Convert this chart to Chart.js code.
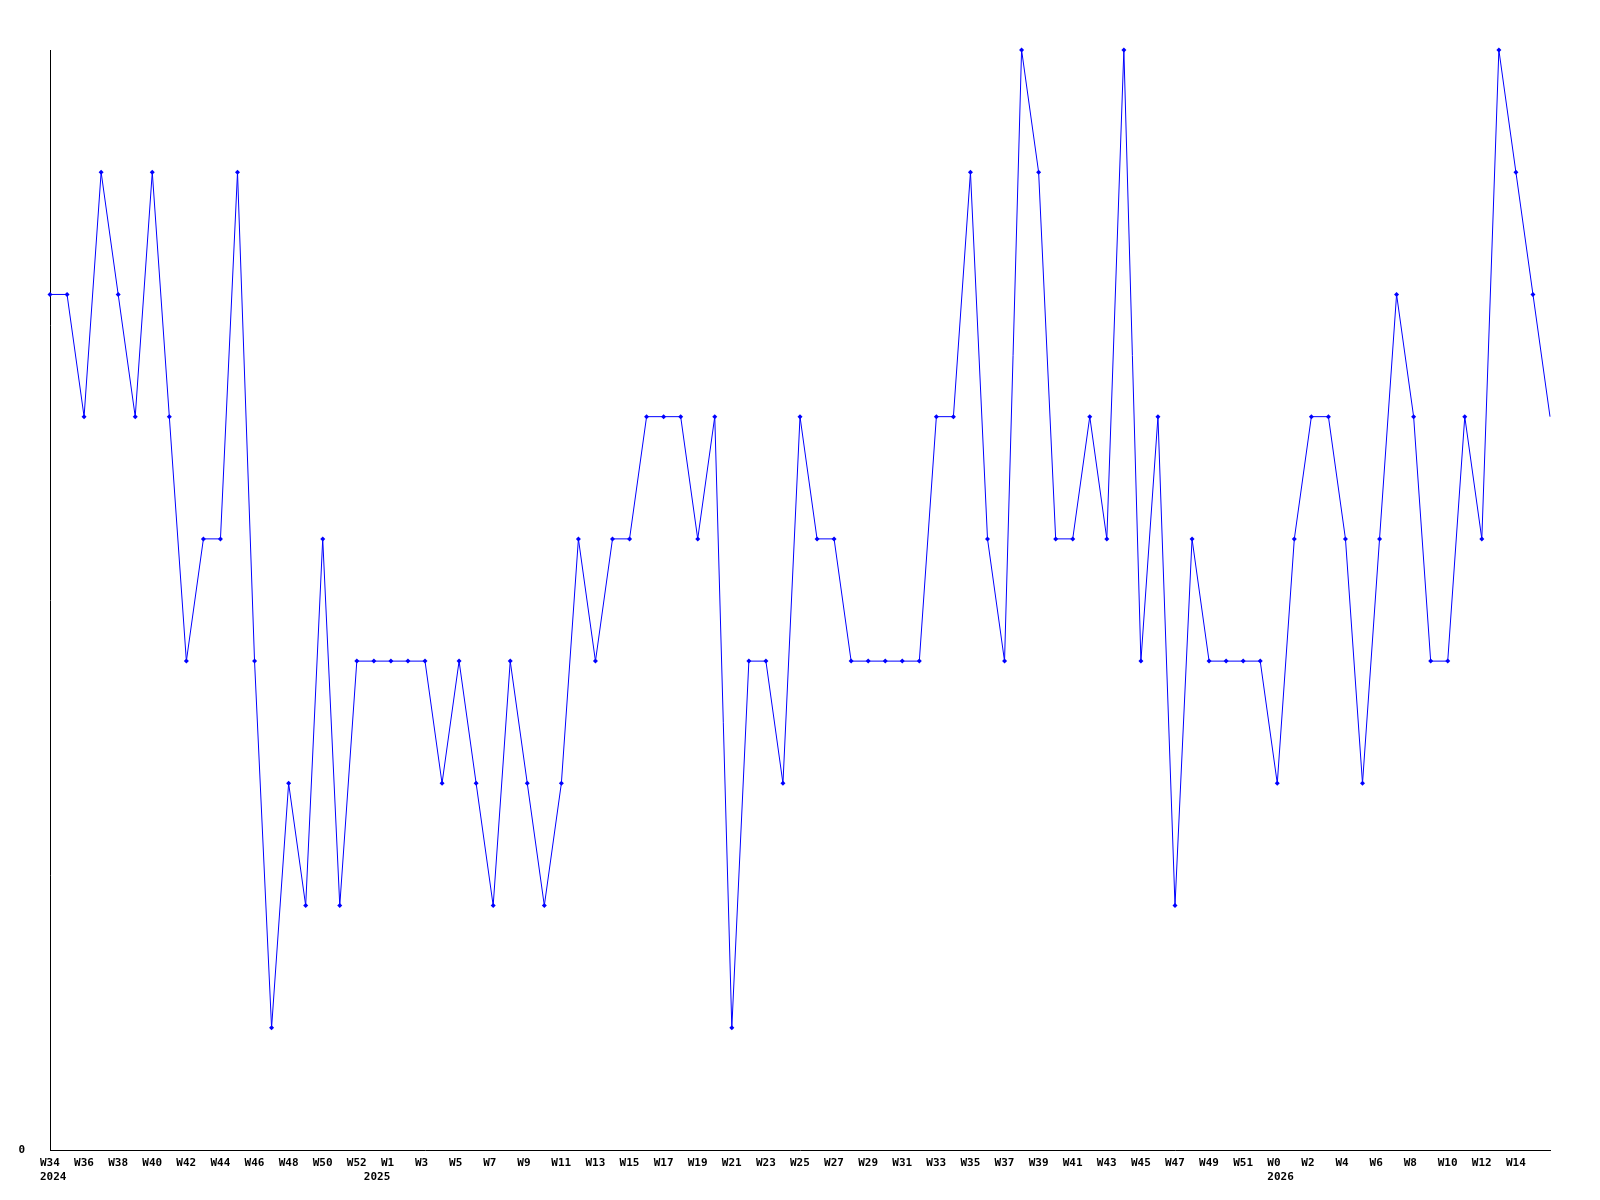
<!DOCTYPE html>
<html>
<head>
<meta charset="utf-8">
<script src="https://cdn.jsdelivr.net/npm/chart.js@4.4.1/dist/chart.umd.min.js"></script>
<style>
    body { margin: 0; background: #ffffff; }
    canvas { display: block; }
</style>
</head>
<body>
<canvas id="grafico" width="1600" height="1200"></canvas>
<script>
// semanas (uma por ponto)
const semanas = [
    'W34','W35','W36','W37','W38','W39','W40','W41','W42','W43','W44','W45','W46','W47','W48','W49','W50','W51','W52',
    'W0','W1','W2','W3','W4','W5','W6','W7','W8','W9','W10','W11','W12','W13','W14','W15','W16','W17','W18','W19','W20',
    'W21','W22','W23','W24','W25','W26','W27','W28','W29','W30','W31','W32','W33','W34','W35','W36','W37','W38','W39','W40',
    'W41','W42','W43','W44','W45','W46','W47','W48','W49','W50','W51','W52',
    'W0','W1','W2','W3','W4','W5','W6','W7','W8','W9','W10','W11','W12','W13','W14','W15','W16'
];

// ano mostrado embaixo da primeira semana de cada ano
const anos = ['2024', '2025', '2026'];
const inicioAno = [0, 19, 72];

const valores = [
    7, 7, 6, 8, 7, 6, 8, 6, 4, 5, 5, 8, 4, 1, 3, 2, 5, 2, 4,
    4, 4, 4, 4, 3, 4, 3, 2, 4, 3, 2, 3, 5, 4, 5, 5, 6, 6, 6, 5, 6,
    1, 4, 4, 3, 6, 5, 5, 4, 4, 4, 4, 4, 6, 6, 8, 5, 4, 9, 8, 5,
    5, 6, 5, 9, 4, 6, 2, 5, 4, 4, 4, 4,
    3, 5, 6, 6, 5, 3, 5, 7, 6, 4, 4, 6, 5, 9, 8, 7, 6
];

const yMin = 0;
const yMax = 9;

const fonte = { family: '"DejaVu Sans Mono", monospace', size: 11, weight: 'bold', lineHeight: '14px' };

const ultimo = valores.length - 1;

const ctx = document.getElementById('grafico').getContext('2d');

new Chart(ctx, {
    type: 'line',
    data: {
        labels: semanas,
        datasets: [{
            data: valores,
            borderColor: '#0000ff',
            backgroundColor: '#0000ff',
            borderWidth: 1,
            tension: 0,
            fill: false,
            clip: false,
            pointStyle: 'rectRot',
            // a última semana (incompleta) fica sem marcador
            pointRadius: (c) => c.dataIndex === ultimo ? 0 : 2.5,
            pointBorderWidth: 0,
            pointBackgroundColor: '#0000ff'
        }]
    },
    options: {
        responsive: false,
        animation: false,
        layout: { padding: { top: 50, right: 50, left: 0, bottom: 0 } },
        plugins: {
            legend: { display: false },
            tooltip: { enabled: false }
        },
        scales: {
            x: {
                offset: false,
                grid: { display: false, drawTicks: false },
                border: { display: true, color: '#000000', width: 1 },
                afterFit: (eixo) => { eixo.height = 50; },
                ticks: {
                    autoSkip: false,
                    maxRotation: 0,
                    minRotation: 0,
                    align: 'start',
                    labelOffset: -10,
                    padding: 6,
                    color: '#000000',
                    font: fonte,
                    callback: function(valor, indice) {
                        const semana = (indice % 2 === 0 && indice !== ultimo) ? semanas[indice] : '';
                        const k = inicioAno.indexOf(indice);
                        if (k >= 0) return [semana, anos[k]];
                        return semana || null;
                    }
                }
            },
            y: {
                min: yMin,
                max: yMax,
                grid: { display: false, drawTicks: false },
                border: { display: true, color: '#000000', width: 1 },
                afterFit: (eixo) => { eixo.width = 50; },
                ticks: {
                    stepSize: 1,
                    padding: 25,
                    color: '#000000',
                    font: fonte,
                    callback: (v) => v === 0 ? '0' : null
                }
            }
        }
    }
});
</script>
</body>
</html>
